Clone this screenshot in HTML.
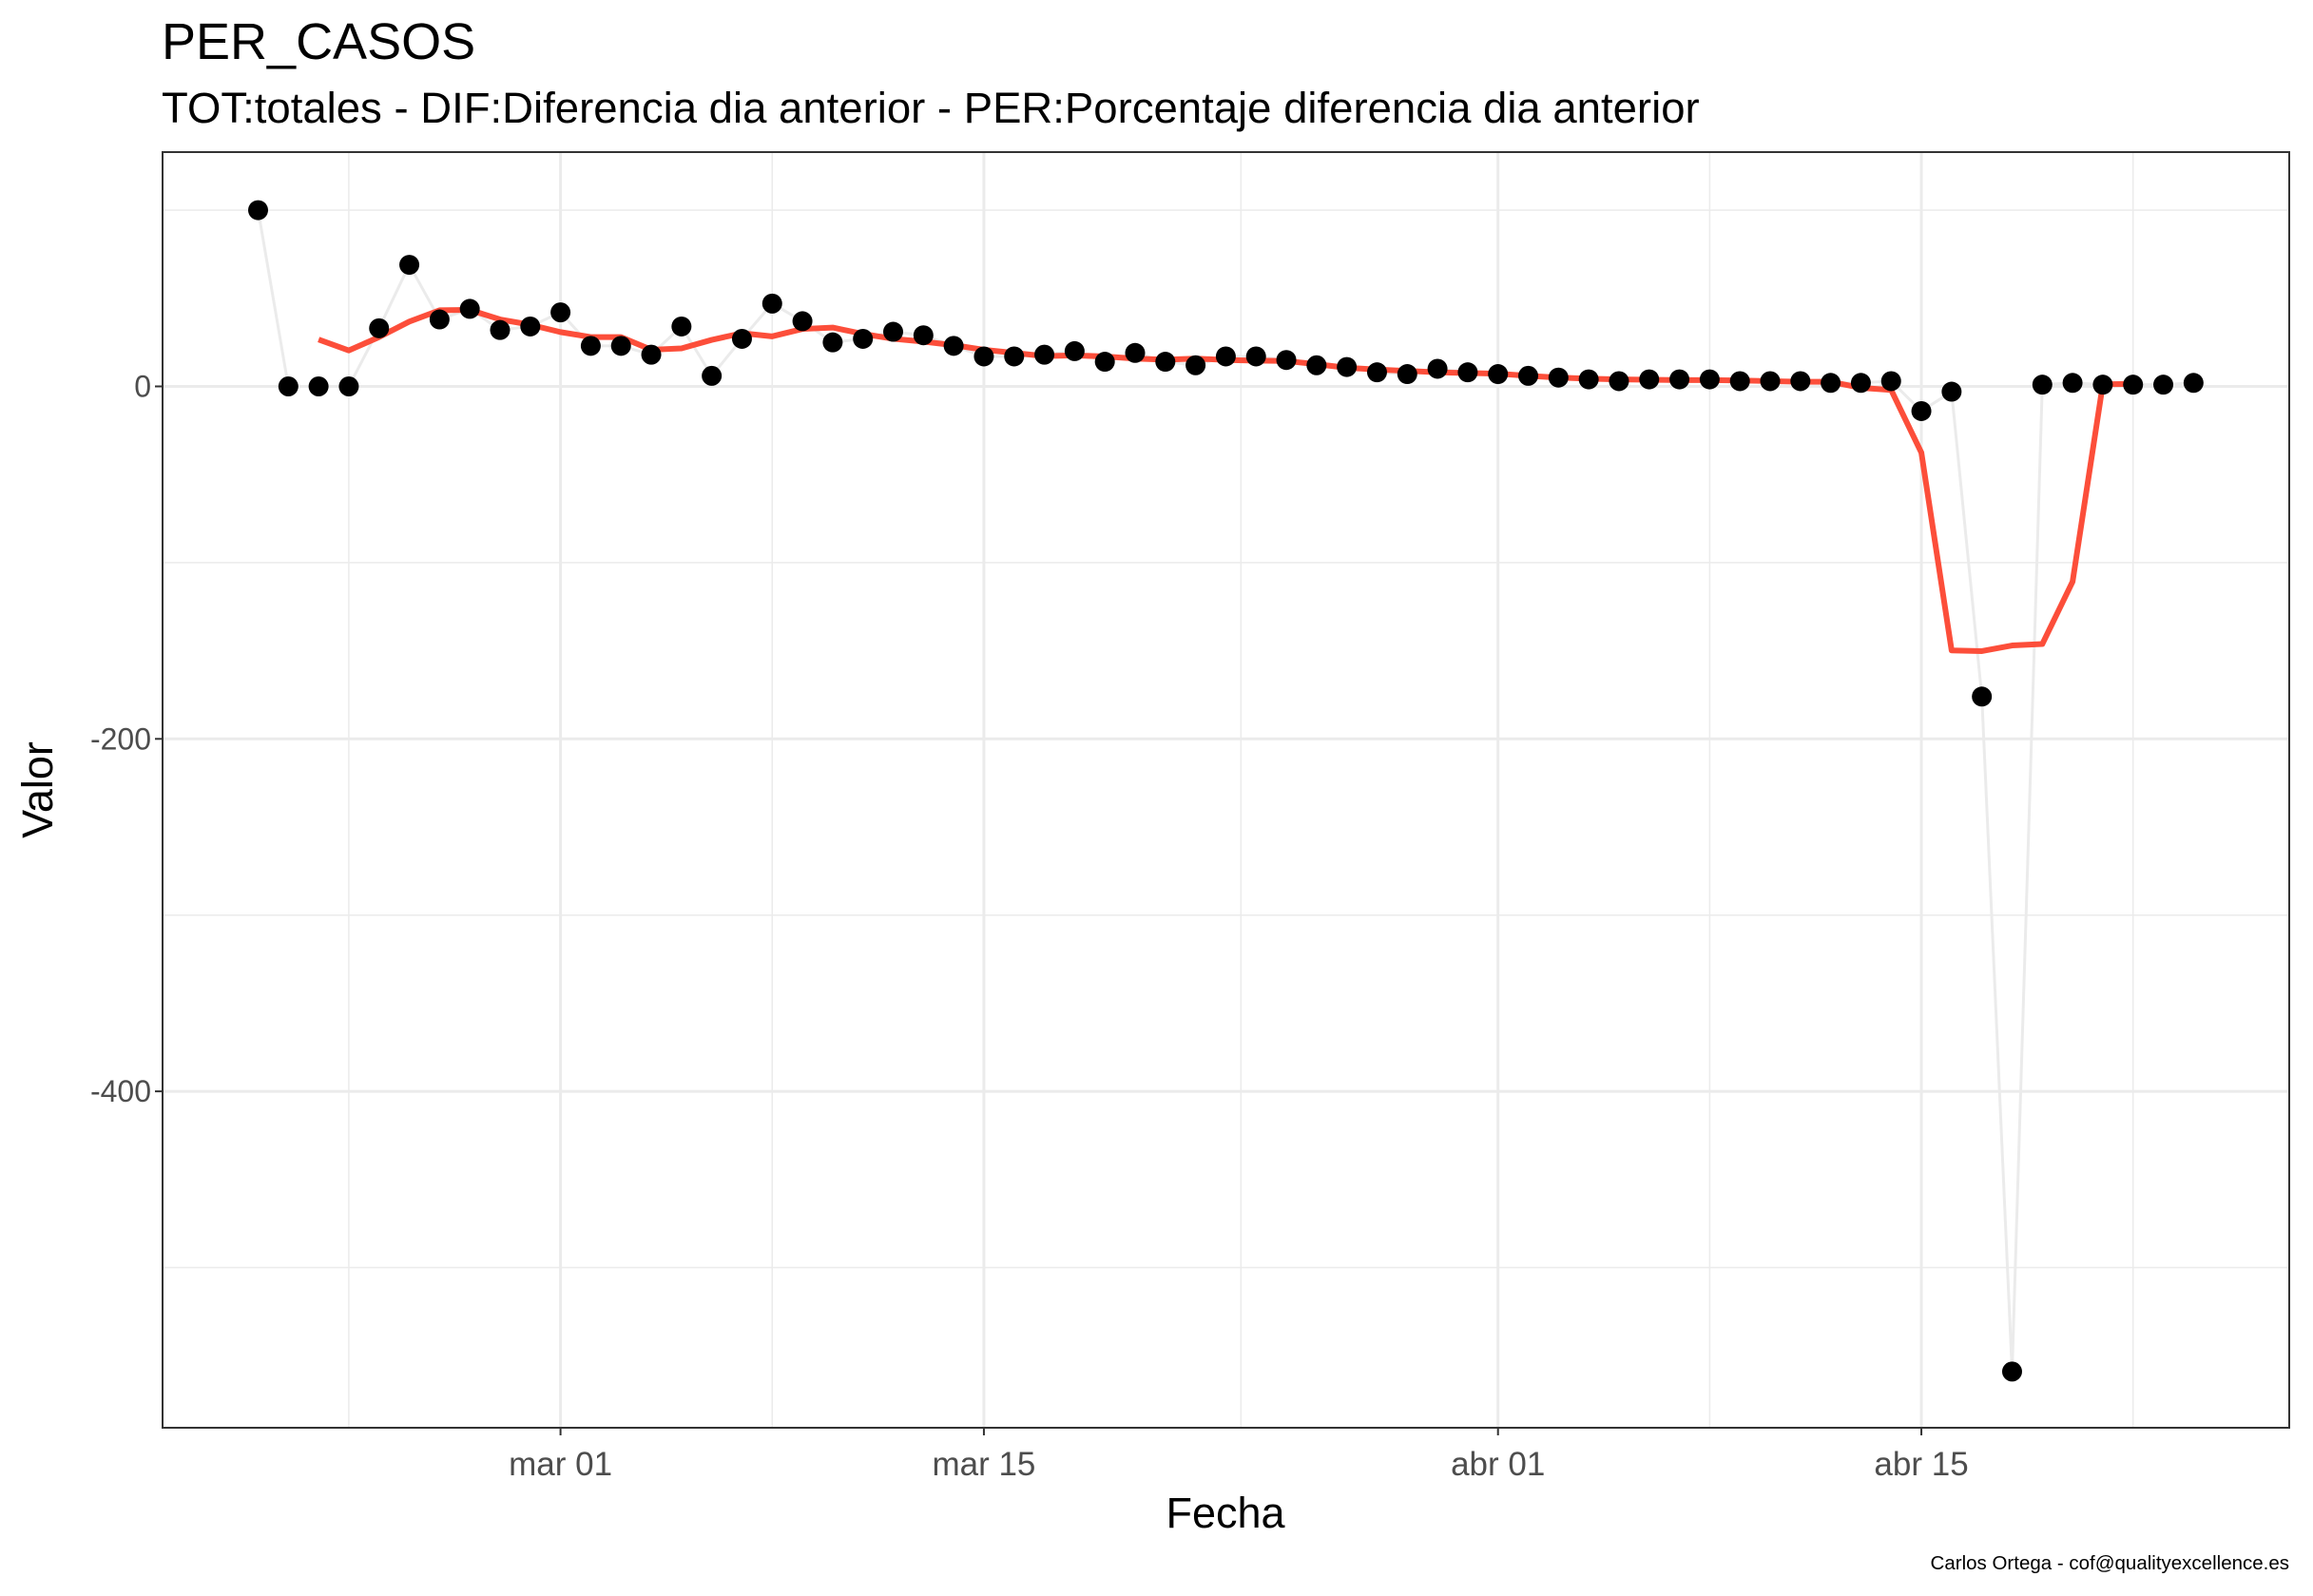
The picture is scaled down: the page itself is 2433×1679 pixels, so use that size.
<!DOCTYPE html>
<html><head><meta charset="utf-8"><style>
html,body{margin:0;padding:0;background:#fff;}
svg{display:block;font-family:"Liberation Sans",Arial,sans-serif;}
</style></head><body>
<svg id="chart" width="2433" height="1679" viewBox="0 0 2433 1679" xmlns="http://www.w3.org/2000/svg">
<rect width="2433" height="1679" fill="#fff"/>
<text x="170" y="62" font-size="54" fill="#000">PER_CASOS</text>
<text x="170" y="129" font-size="45.5" fill="#000">TOT:totales - DIF:Diferencia dia anterior - PER:Porcentaje diferencia dia anterior</text>
<g id="grid"></g>
<g id="series"></g>
<rect x="171" y="160" width="2237" height="1342" fill="none" stroke="#333" stroke-width="2"/>
<g id="axes"></g>
<text x="1289" y="1607" font-size="45" text-anchor="middle" fill="#000">Fecha</text>
<text transform="translate(55,831) rotate(-90)" font-size="45" text-anchor="middle" fill="#000">Valor</text>
<text x="2408" y="1651" font-size="20.5" text-anchor="end" fill="#000">Carlos Ortega - cof@qualityexcellence.es</text>
</svg>
<script>
// start date 2020-02-20, one value per day
const startDay = -10; // days relative to mar 01
const values = [100,0,0,0,33,69,38,44,32,34,
 42,23,23,18,34,6,27,47,37,25,27,31,29,23,17,17,18,20,14,19,14,12,17,17,15,12,11,8,7,10,8,
 7,6,5,4,3,4,4,4,3,3,3,2,2,3,-14,-3,-176,-559,1,2,1,1,1,2];
const xTickLabels = ["mar 01","mar 15","abr 01","abr 15"];
const xTickDays = [0,14,31,45];
const xMinorDays = [-7,7,22.5,38,52];
const yTickLabels = ["0","-200","-400"];
const yTickValues = [0,-200,-400];
const yMinorValues = [100,-100,-300,-500];

const NS="http://www.w3.org/2000/svg";
const L=171,R=2408,T=160,B=1502;
const x=d=>589.6+d*31.81;
const y=v=>406.5-v*1.854;
function mk(tag,attrs,parent){const e=document.createElementNS(NS,tag);for(const k in attrs)e.setAttribute(k,attrs[k]);parent.appendChild(e);return e;}
const grid=document.getElementById('grid'),series=document.getElementById('series'),axes=document.getElementById('axes');
for(const v of yMinorValues){const l=mk('line',{x1:L,x2:R,y1:y(v),y2:y(v),stroke:'#ebebeb','stroke-width':1.5},grid);

}
for(const d of xMinorDays){const l=mk('line',{x1:x(d),x2:x(d),y1:T,y2:B,stroke:'#ebebeb','stroke-width':1.5},grid);

}
yTickValues.forEach((v,i)=>{const l=mk('line',{x1:L,x2:R,y1:y(v),y2:y(v),stroke:'#ebebeb','stroke-width':3},grid);


const t=mk('line',{x1:L-8,x2:L,y1:y(v),y2:y(v),stroke:'#333','stroke-width':2},axes);


const tx=mk('text',{x:L-12,y:y(v)+11,'font-size':32,'text-anchor':'end',fill:'#4d4d4d'},axes);tx.textContent=yTickLabels[i];

});
xTickDays.forEach((d,i)=>{const l=mk('line',{x1:x(d),x2:x(d),y1:T,y2:B,stroke:'#ebebeb','stroke-width':3},grid);


const t=mk('line',{x1:x(d),x2:x(d),y1:B,y2:B+8,stroke:'#333','stroke-width':2},axes);


const tx=mk('text',{x:x(d),y:B+50,'font-size':35,'text-anchor':'middle',fill:'#4d4d4d'},axes);tx.textContent=xTickLabels[i];

});
// grey raw line
const raw=mk('polyline',{points:values.map((v,i)=>x(startDay+i)+','+y(v)).join(' '),fill:'none',stroke:'#ebebeb','stroke-width':3},series);


// centered 5-day moving average
const ma=[];for(let i=2;i<values.length-2;i++){let s=0;for(let k=-2;k<=2;k++)s+=values[i+k];ma.push([i,s/5]);}
const red=mk('polyline',{points:ma.map(p=>x(startDay+p[0])+','+y(p[1])).join(' '),fill:'none',stroke:'#fc4e3a','stroke-width':6,'stroke-linejoin':'round'},series);


values.forEach((v,i)=>{const c=mk('circle',{cx:x(startDay+i),cy:y(v),r:10.5,fill:'#000'},series);

});
</script>
</body></html>
